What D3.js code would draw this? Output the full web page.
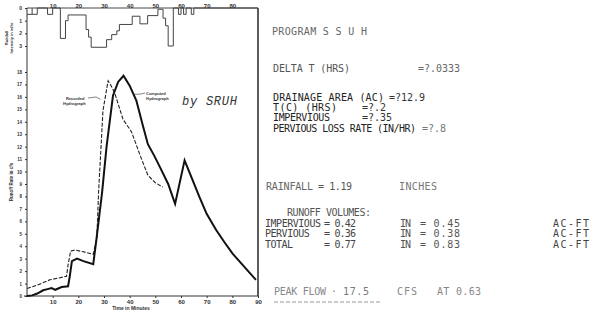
<!DOCTYPE html>
<html>
<head>
<title>SRUH hydrograph</title>
<style>
  body, html { margin: 0; background: #fff; }
  svg { display: block; }
  .tiny { font-family: "Liberation Sans", Arial, sans-serif; font-weight: bold; fill: #333; }
  .mono { font-family: "DejaVu Sans Mono", monospace; font-size: 10px; }
</style>
</head>
<body>
<svg id="svg" width="592" height="311"></svg>
<script src="https://d3js.org/d3.v7.min.js"></script>
<script>
// rainfall hyetograph, step starts (minutes) and intensity (in/hr)
const rainTime = [0, 2, 4, 8, 10, 13, 15, 16, 23, 24, 25, 31, 33, 35, 36, 41, 44, 47, 51, 53, 54, 55, 57, 59, 60, 61, 62, 64, 65, 90]
const rainInt  = [0.5, 0.5, 0, 0.5, 0, 2.4, 1.0, 0.55, 1.7, 2.3, 3.1, 2.5, 2.1, 1.8, 1.3, 0.65, 1.25, 0.6, 0.1, 0.8, 1.4, 3.0, 0, 0.5, 0, 0.5, 0, 0.5, 0, 0]

// computed hydrograph (cfs)
const compTime = [0, 2, 4, 6.3, 8, 9.6, 11, 13.5, 16, 16.6, 17.5, 19.5, 22, 25.8, 27, 29.3, 31, 33.5, 35.5, 37.6, 40, 42.6, 45, 47.1, 49.5, 51.7, 55, 57.7, 61.4, 65.9, 67.2, 70, 73.7, 77, 80.1, 85.3, 89.2]
const compFlow = [0, 0.05, 0.2, 0.46, 0.55, 0.64, 0.5, 0.72, 0.78, 1.5, 2.8, 3.0, 2.8, 2.55, 4.47, 8.4, 12, 16.1, 17.2, 17.7, 16.9, 15.7, 13.8, 12.2, 11.3, 10.4, 9.0, 7.4, 10.9, 8.6, 7.95, 6.6, 5.3, 4.3, 3.4, 2.2, 1.3]

// recorded hydrograph (cfs)
const recTime = [0, 3.8, 8.9, 15.4, 16, 17, 18.6, 22, 25.8, 26.5, 27.2, 27.9, 29.6, 31.6, 32.5, 34.2, 37.4, 40.7, 43.9, 47.1, 50, 52.9]
const recFlow = [0.6, 0.86, 1.3, 1.58, 2.5, 3.6, 3.7, 3.55, 3.35, 4.0, 4.6, 8.4, 14.9, 17.3, 17.0, 16.3, 14.2, 13.2, 11.4, 9.7, 9.1, 8.75]

const timeTicks = [10, 20, 30, 40, 50, 60, 70, 80, 90]
const topTicks = [10, 20, 30, 40, 50, 60, 70, 80]
const flowTicks = [0, 1, 2, 3, 4, 5, 6, 7, 8, 9, 10, 11, 12, 13, 14, 15, 16, 17, 18]
const rainTicks = [0, 1, 2, 3]

// printout text
const titleText = 'PROGRAM S S U H'
const inputLabels = ['DELTA T (HRS)', 'DRAINAGE AREA (AC)', 'T(C)  (HRS)', 'IMPERVIOUS', 'PERVIOUS LOSS RATE (IN/HR)']
const inputValues = ['=?.0333', '=?12.9', '=?.2', '=?.35', '=?.8']
const volLabels = ['IMPERVIOUS', 'PERVIOUS', 'TOTAL']
const volInches = ['= 0.42', '= 0.36', '= 0.77']
const volAcreFt = ['= 0.45', '= 0.38', '= 0.83']

const svg = d3.select('#svg')

const x = d3.scaleLinear().domain([0, 90]).range([27, 258])
const y = d3.scaleLinear().domain([0, 18]).range([296, 72])
const yr = d3.scaleLinear().domain([0, 3]).range([8, 46])

// frame
const frame = svg.append('g').attr('stroke', '#333').attr('fill', 'none')
frame.append('line').attr('x1', x(0)).attr('x2', x(0)).attr('y1', yr(0)).attr('y2', y(0)).attr('stroke-width', 1)
frame.append('line').attr('x1', x(90)).attr('x2', x(90)).attr('y1', yr(0)).attr('y2', y(0)).attr('stroke-width', 1.6)
frame.append('line').attr('x1', x(0)).attr('x2', x(90)).attr('y1', yr(0)).attr('y2', yr(0)).attr('stroke-width', 0.9)
frame.append('line').attr('x1', x(0) - 3).attr('x2', x(90)).attr('y1', y(0)).attr('y2', y(0)).attr('stroke-width', 1.2)

function styleAxis(g, size) {
  g.select('.domain').remove()
  g.selectAll('line').attr('stroke', '#333')
  g.selectAll('text').attr('class', 'tiny').style('font-size', size + 'px').attr('fill', '#333')
}

svg.append('g')
  .attr('transform', `translate(0, ${y(0)})`)
  .call(d3.axisBottom(x).tickValues(timeTicks).tickSize(2).tickPadding(2))
  .call(g => styleAxis(g, 6))

svg.append('g')
  .attr('transform', `translate(0, ${yr(0)})`)
  .call(d3.axisTop(x).tickValues(topTicks).tickSize(0).tickPadding(0))
  .call(g => styleAxis(g, 6))

svg.append('g')
  .attr('transform', `translate(${x(0)}, 0)`)
  .call(d3.axisLeft(y).tickValues(flowTicks).tickSize(2).tickPadding(3))
  .call(g => styleAxis(g, 4.5))

svg.append('g')
  .attr('transform', `translate(${x(0)}, 0)`)
  .call(d3.axisLeft(yr).tickValues(rainTicks).tickFormat(d3.format('d')).tickSize(2).tickPadding(3))
  .call(g => styleAxis(g, 5))

// axis titles
svg.append('text').attr('class', 'tiny').style('font-size', '5px')
  .attr('x', 131).attr('y', 310).attr('text-anchor', 'middle').text('Time in Minutes')
svg.append('text').attr('class', 'tiny').style('font-size', '4.5px')
  .attr('transform', 'translate(13, 182) rotate(-90)').attr('text-anchor', 'middle').text('Runoff Rate in cfs')
svg.append('text').attr('class', 'tiny').style('font-size', '4px')
  .attr('transform', 'translate(8, 38) rotate(-90)').attr('text-anchor', 'middle').text('Rainfall')
svg.append('text').attr('class', 'tiny').style('font-size', '4px')
  .attr('transform', 'translate(13, 38) rotate(-90)').attr('text-anchor', 'middle').text('Intensity in in/hr')

// hyetograph
const rainPts = rainTime.map((t, i) => [t, rainInt[i]])
svg.append('path')
  .datum(rainPts)
  .attr('d', d3.line().x(d => x(d[0])).y(d => yr(d[1])).curve(d3.curveStepAfter))
  .attr('fill', 'none').attr('stroke', '#444').attr('stroke-width', 1)
// divider lines between the little 2-minute blocks
svg.append('g').selectAll('line')
  .data(rainPts.filter((d, i) => i > 0 && d[1] > 0 && rainInt[i - 1] === d[1]))
  .join('line')
  .attr('x1', d => x(d[0])).attr('x2', d => x(d[0]))
  .attr('y1', yr(0)).attr('y2', d => yr(d[1]))
  .attr('stroke', '#444').attr('stroke-width', 1)

// hydrographs
const line = d3.line().x(d => x(d[0])).y(d => y(d[1]))
svg.append('path')
  .datum(recTime.map((t, i) => [t, recFlow[i]]))
  .attr('d', line)
  .attr('fill', 'none').attr('stroke', '#222').attr('stroke-width', 1.1).attr('stroke-dasharray', '4,1.6')
svg.append('path')
  .datum(compTime.map((t, i) => [t, compFlow[i]]))
  .attr('d', line)
  .attr('fill', 'none').attr('stroke', '#111').attr('stroke-width', 2)

// labels on the curves
const lab = svg.append('g').attr('class', 'tiny').style('font-size', '4px')
lab.append('text').attr('x', 66).attr('y', 100).text('Recorded')
lab.append('text').attr('x', 63).attr('y', 105).text('Hydrograph')
lab.append('text').attr('x', 146).attr('y', 95).text('Computed')
lab.append('text').attr('x', 146).attr('y', 100).text('Hydrograph')
svg.append('path').attr('d', d3.line()([[88, 98], [96, 97], [x(28.6), y(15.8)]]))
  .attr('stroke', '#333').attr('stroke-width', 0.6).attr('fill', 'none')
svg.append('path').attr('d', d3.line()([[145, 93], [141, 94], [x(41.5), y(16.2)]]))
  .attr('stroke', '#333').attr('stroke-width', 0.6).attr('fill', 'none')

svg.append('text')
  .attr('x', 182).attr('y', 105)
  .attr('textLength', 55).attr('lengthAdjust', 'spacing')
  .style('font-family', '"Liberation Mono", monospace').style('font-style', 'italic')
  .style('font-size', '12px').attr('fill', '#333')
  .text('by SRUH')

// printout on the right
const txt = svg.append('g').attr('class', 'mono')
function put(s, px, py, len, col) {
  const t = txt.append('text').attr('x', px).attr('y', py).attr('fill', col).text(s)
  if (len) t.attr('textLength', len).attr('lengthAdjust', 'spacing')
  return t
}
put(titleText, 272, 35, 95, '#666')

const inY = [72, 101, 111, 121, 132]
const inLen = [77, 111, 64, 57, 143]
const inValX = [418, 389, 362, 362, 422]
inputLabels.forEach((s, i) => {
  const c = i === 0 ? '#555' : '#222'
  put(s, 273, inY[i], inLen[i], c)
  put(inputValues[i], inValX[i], inY[i], null, i === 0 ? '#666' : (i === 4 ? '#777' : '#333'))
})

put('RAINFALL', 266, 190, 47, '#666')
put('= 1.19', 318, 190, 34, '#555')
put('INCHES', 399, 190, 38, '#777')

put('RUNOFF VOLUMES:', 287, 216, 84, '#555')
const volY = [227, 237, 248]
volLabels.forEach((s, i) => {
  put(s, 265, volY[i], s.length * 5.6, '#444')
  put(volInches[i], 324, volY[i], 32, '#444')
  put('IN', 400, volY[i], 11, '#555')
  put(volAcreFt[i], 420, volY[i], 40, '#555')
  put('AC-FT', 553, volY[i], 36, '#444')
})

put('PEAK FLOW', 274, 295, 52, '#888')
put('·', 331, 295, null, '#888')
put('17.5', 343, 295, 26, '#777')
put('CFS', 397, 295, 20, '#888')
put('AT 0.63', 437, 295, 44, '#888')
// underline printed as a row of dashes
svg.append('line').attr('x1', 274).attr('x2', 382).attr('y1', 302).attr('y2', 302)
  .attr('stroke', '#999').attr('stroke-width', 1).attr('stroke-dasharray', '4,2')
</script>
</body>
</html>
